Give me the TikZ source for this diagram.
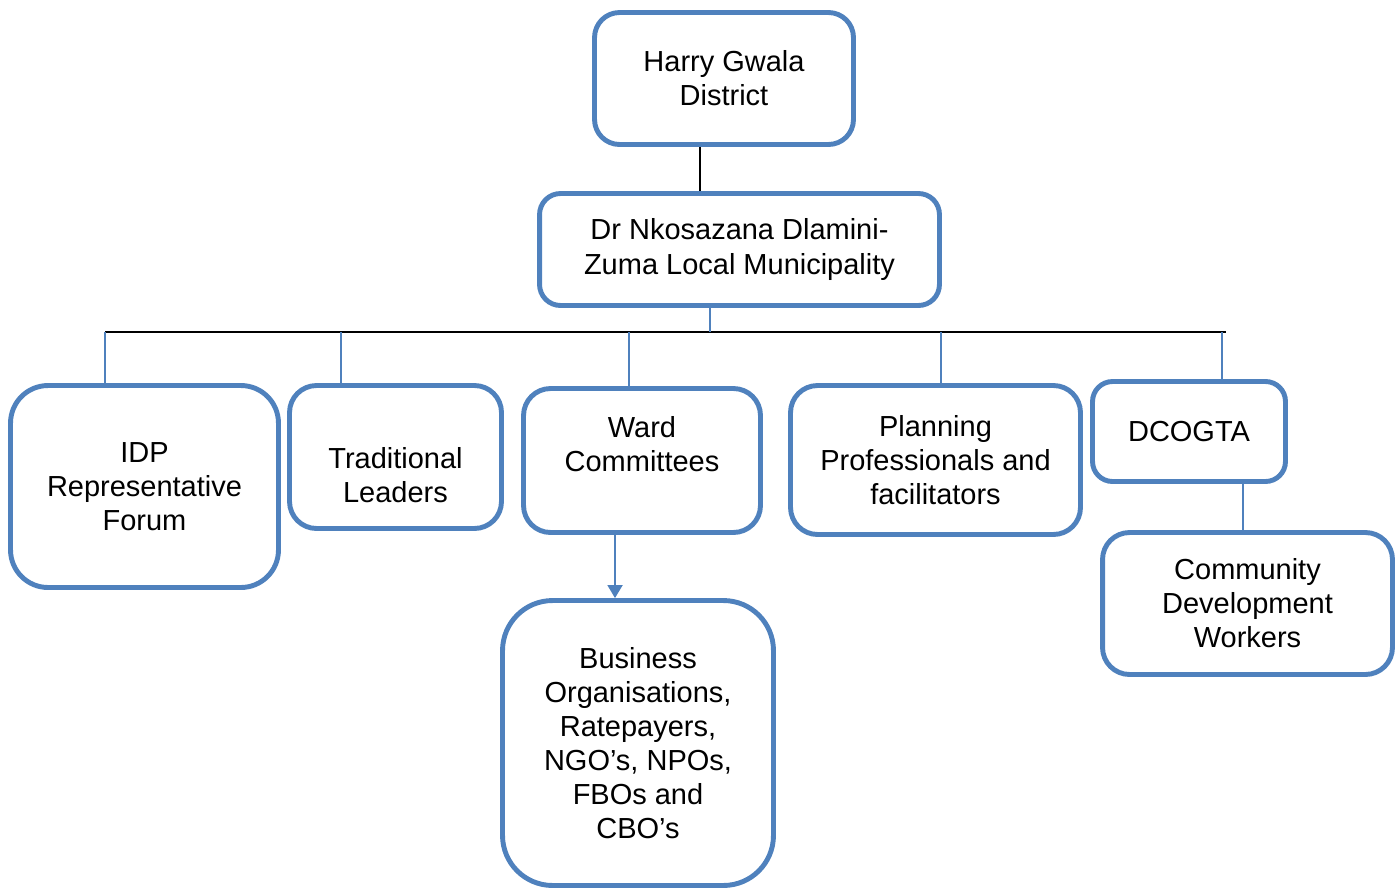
\documentclass[tikz,border=0pt]{standalone}
\usepackage{fontspec}
\setmainfont{Liberation Sans}
\usetikzlibrary{arrows.meta}
\definecolor{boxblue}{HTML}{4F81BD}
\tikzstyle{box}=[draw=boxblue, line width=2.8pt, rounded corners=0.54cm, align=center, inner sep=2pt, font=\fontsize{16.5}{19.3}\selectfont]
\tikzstyle{link}=[draw=boxblue, line width=1.1pt]

\begin{document}
\begin{tikzpicture}[x=0.02cm, y=-0.02cm]
\useasboundingbox (0,0) rectangle (1400,890);
% Top
    \node[box, minimum width=5.18cm, minimum height=2.64cm, rounded corners=0.5cm] (harry) at (724,78.5) {Harry Gwala\\District};
    \node[box, minimum width=8.0cm, minimum height=2.24cm, rounded corners=0.42cm] (dlz) at (739.5,249.5) {Dr Nkosazana Dlamini-\\[1pt]Zuma Local Municipality};
% Second row
    \node[box, minimum width=5.36cm, minimum height=4.04cm, rounded corners=0.75cm] (idp) at (144.5,486.5) {IDP\\Representative\\Forum};
    \node[box, minimum width=4.24cm, minimum height=2.86cm] (trad) at (395.5,457) {\strut\\Traditional\\Leaders};
    \node[box, minimum width=4.74cm, minimum height=2.88cm] (ward) at (642,460.5) {Ward\\Committees\\\mbox{}};
    \node[box, minimum width=5.8cm, minimum height=2.98cm] (plan) at (935.5,460) {Planning\\Professionals and\\facilitators};
    \node[box, minimum width=3.86cm, minimum height=2.0cm, rounded corners=0.4cm] (dcogta) at (1189,431.5) {DCOGTA};
% Bottom
    \node[box, minimum width=5.8cm, minimum height=2.84cm] (cdw) at (1247.5,603.5) {Community\\Development\\Workers};
    \node[box, minimum width=5.42cm, minimum height=5.7cm, rounded corners=1cm] (biz) at (638,743) {Business\\Organisations,\\Ratepayers,\\NGO’s, NPOs,\\FBOs and\\CBO’s};
% Bar
    \coordinate (barL) at (105,332);
    \coordinate (barR) at (1226,332);
    \coordinate (t1) at (105,332);
    \coordinate (t2) at (341,332);
    \coordinate (t3) at (629,332);
    \coordinate (t4) at (941,332);
    \coordinate (t5) at (1222,332);
% Lines
    \draw[black, line width=1.1pt] ([xshift=-0.48cm]harry.south) -- ([xshift=-0.48cm]harry.south |- dlz.north);
    \draw[black, line width=1pt] (barL) -- (barR);
    \draw[link] ([xshift=-0.59cm]dlz.south) -- ([xshift=-0.59cm]dlz.south |- barL);
    \draw[link] (t1) -- (t1 |- idp.north);
    \draw[link] (t2) -- (t2 |- trad.north);
    \draw[link] (t3) -- (t3 |- ward.north);
    \draw[link] (t4) -- (t4 |- plan.north);
    \draw[link] (t5) -- (t5 |- dcogta.north);
    \draw[link, -{Triangle[length=0.26cm, width=0.3cm]}] ([xshift=-0.54cm]ward.south) -- ([xshift=-0.54cm]ward.south |- biz.north);
    \draw[link] ([xshift=-0.09cm]cdw.north) -- ([xshift=-0.09cm]cdw.north |- dcogta.south);
\end{tikzpicture}
\end{document}
